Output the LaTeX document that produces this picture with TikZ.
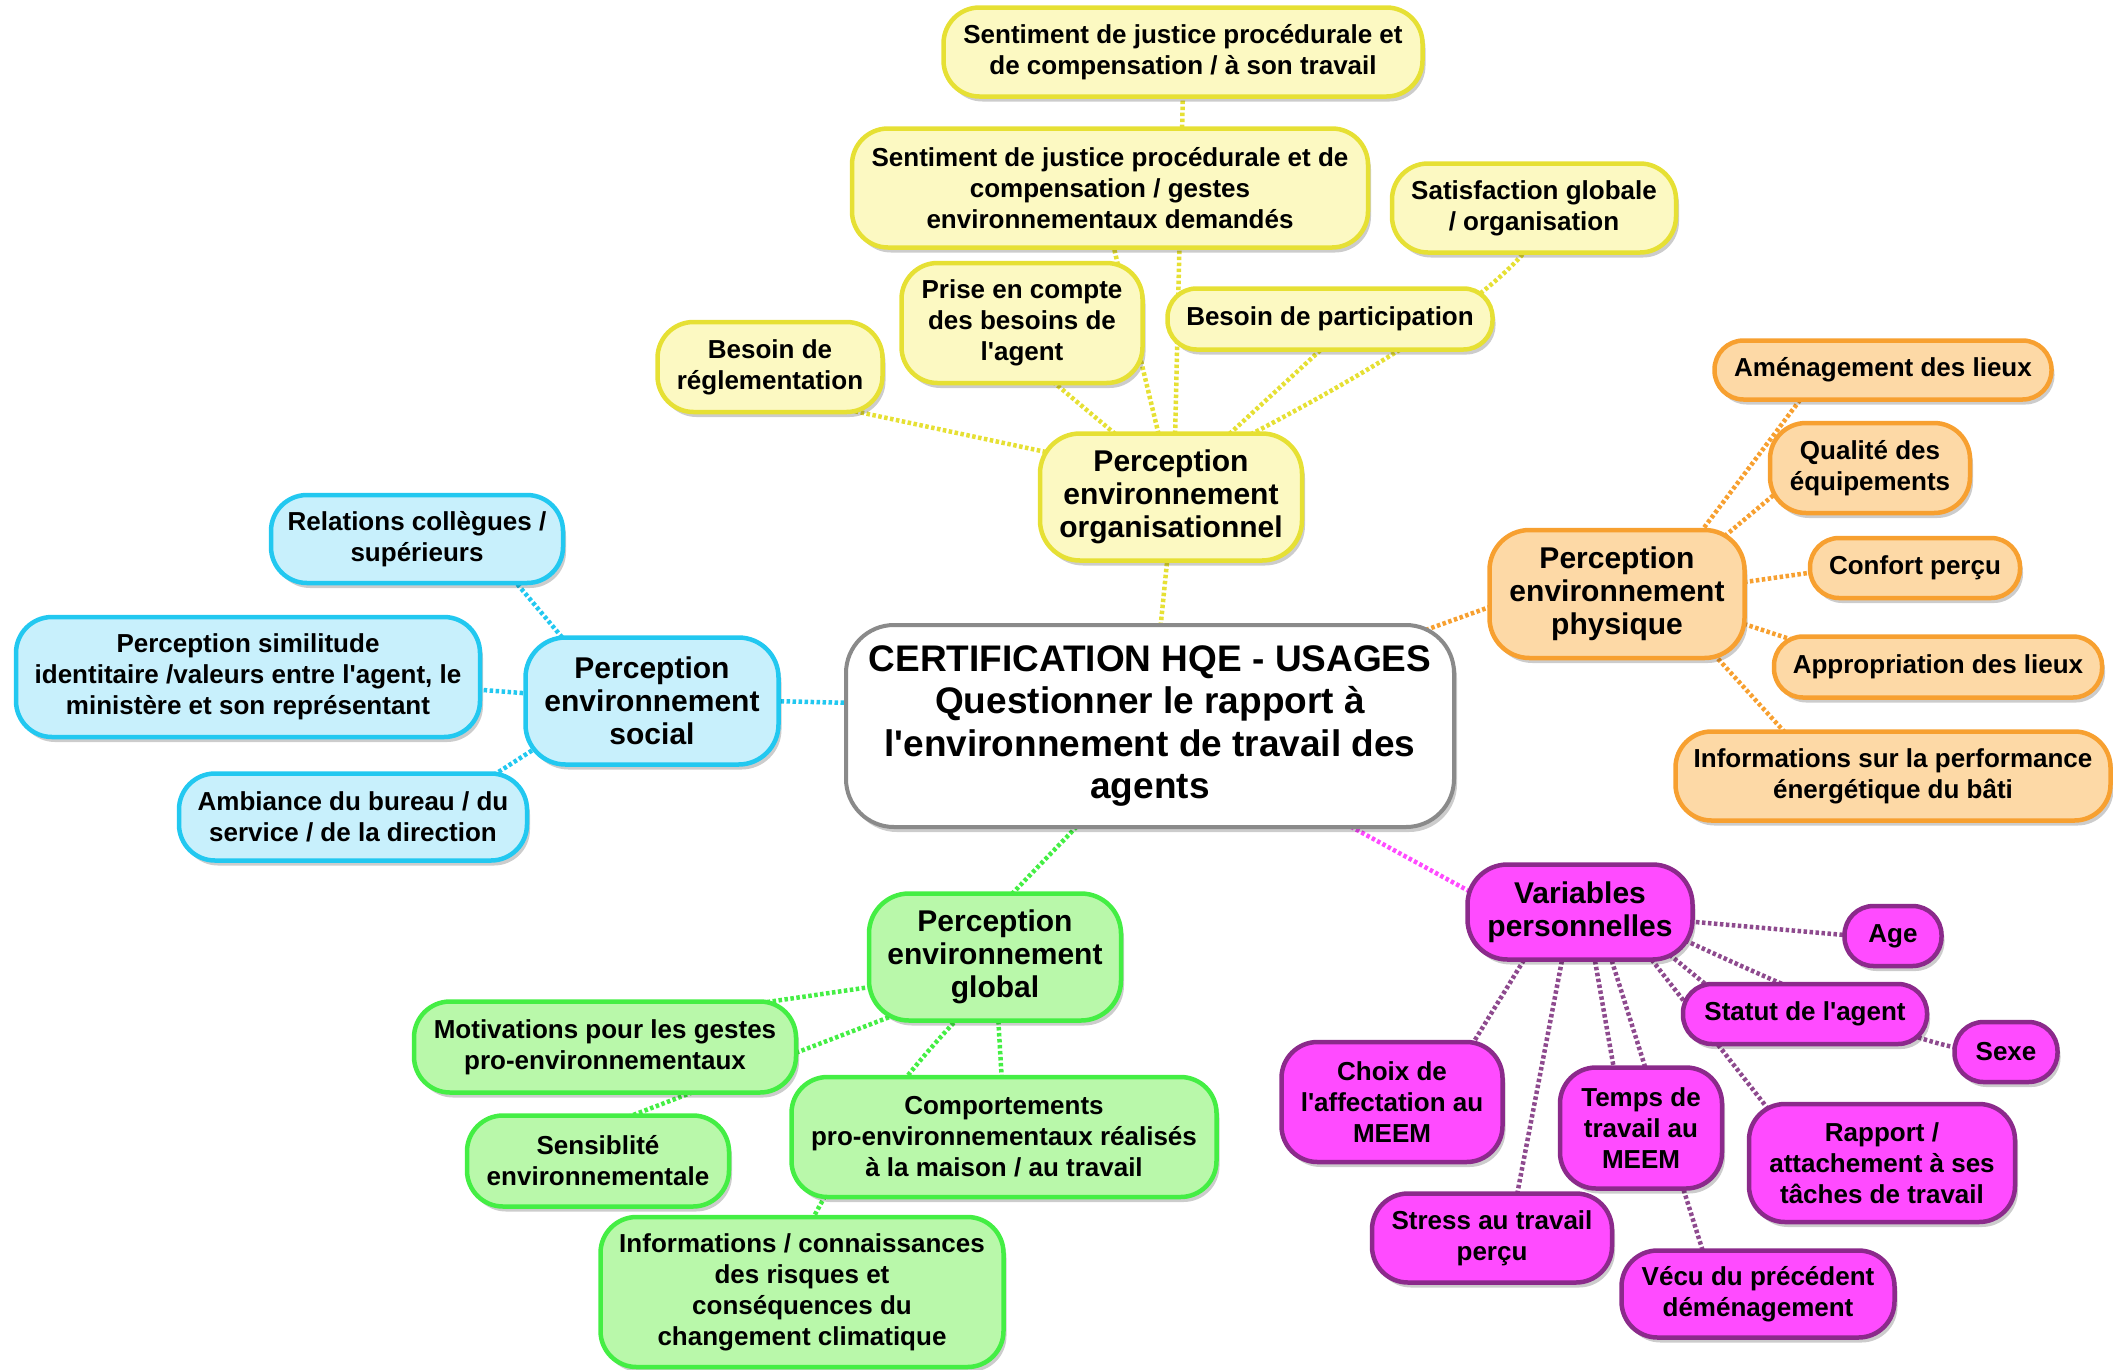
\documentclass[tikz,border=0pt]{standalone}
\usepackage{fontspec}
\setmainfont{Liberation Sans}
\usetikzlibrary{shadows,calc}
\pgfdeclarelayer{bg}
\pgfsetlayers{bg,main}
\newcommand{\myapos}{\textquotesingle}
\definecolor{yB}{HTML}{E6E034}
\definecolor{yF}{HTML}{FCF9C2}
\definecolor{bB}{HTML}{22C8F0}
\definecolor{bF}{HTML}{C8F0FC}
\definecolor{oB}{HTML}{F7A030}
\definecolor{oF}{HTML}{FDD9A6}
\definecolor{gB}{HTML}{44EE44}
\definecolor{gF}{HTML}{B9F8AA}
\definecolor{mB}{HTML}{8B2A8B}
\definecolor{mF}{HTML}{FF4BFF}
\definecolor{mL}{HTML}{8E4A8E}
\definecolor{cB}{HTML}{8A8A8A}
\tikzset{
  box/.style={draw, line width=4.5pt, align=center, inner sep=0pt,
    rounded corners=36pt,
    font=\fontsize{26}{31}\selectfont\bfseries,
    drop shadow={shadow xshift=3pt, shadow yshift=-5pt, opacity=0.2, fill=black}},
  pill/.style={rounded corners=29pt},
  hub/.style={rounded corners=40pt, font=\fontsize{30}{33}\selectfont\bfseries},
  ynode/.style={box, draw=yB, fill=yF},
  bnode/.style={box, draw=bB, fill=bF},
  onode/.style={box, draw=oB, fill=oF},
  gnode/.style={box, draw=gB, fill=gF},
  mnode/.style={box, draw=mB, fill=mF},
  conn/.style={line width=4.5pt, dash pattern=on 3.5pt off 2.5pt},
}
\begin{document}
\begin{tikzpicture}[x=1pt, y=-1pt]
\useasboundingbox (0,0) rectangle (2113,1369);

% ---- centre
\node[box, draw=cB, fill=white, line width=4pt, rounded corners=48pt,
  font=\fontsize{37}{42.5}\selectfont\bfseries,
  minimum width=608pt, minimum height=202pt] (c) at (1150,726)
  {CERTIFICATION HQE - USAGES\\Questionner le rapport à\\l\myapos environnement de travail des\\agents};

% ---- yellow
\node[ynode, minimum width=479pt, minimum height=89pt] (s1) at (1183,52)
  {Sentiment de justice procédurale et\\de compensation / à son travail};
\node[ynode, minimum width=516pt, minimum height=119pt] (s2) at (1110,188)
  {Sentiment de justice procédurale et de\\compensation / gestes\\environnementaux demandés};
\node[ynode, minimum width=284pt, minimum height=89pt] (sat) at (1534,208)
  {Satisfaction globale\\/ organisation};
\node[ynode, minimum width=241pt, minimum height=120pt] (prise) at (1022,323)
  {Prise en compte\\des besoins de\\l\myapos agent};
\node[ynode, pill, minimum width=325pt, minimum height=61pt] (bpart) at (1330,319)
  {Besoin de participation};
\node[ynode, minimum width=225pt, minimum height=90pt] (bregl) at (770,367)
  {Besoin de\\réglementation};
\node[ynode, hub, minimum width=262pt, minimum height=127pt] (hy) at (1171,497)
  {Perception\\environnement\\organisationnel};

% ---- blue
\node[bnode, hub, minimum width=253pt, minimum height=127pt] (hb) at (652,701)
  {Perception\\environnement\\social};
\node[bnode, minimum width=292pt, minimum height=88pt] (rel) at (417,539)
  {Relations collègues /\\supérieurs};
\node[bnode, minimum width=464pt, minimum height=120pt] (psim) at (248,677)
  {Perception similitude\\identitaire /valeurs entre l\myapos agent, le\\ministère et son représentant};
\node[bnode, minimum width=348pt, minimum height=87pt] (amb) at (353,817)
  {Ambiance du bureau / du\\service / de la direction};

% ---- orange
\node[onode, hub, minimum width=255pt, minimum height=128pt] (ho) at (1617,594)
  {Perception\\environnement\\physique};
\node[onode, pill, minimum width=337pt, minimum height=59pt] (amen) at (1883,370)
  {Aménagement des lieux};
\node[onode, minimum width=200pt, minimum height=90pt] (qual) at (1870,468)
  {Qualité des\\équipements};
\node[onode, pill, minimum width=210pt, minimum height=60pt] (conf) at (1915,568)
  {Confort perçu};
\node[onode, pill, minimum width=328pt, minimum height=61pt] (appr) at (1938,667)
  {Appropriation des lieux};
\node[onode, minimum width=435pt, minimum height=89pt] (iperf) at (1893,776)
  {Informations sur la performance\\énergétique du bâti};

% ---- green
\node[gnode, hub, minimum width=252pt, minimum height=127pt] (hg) at (995,957)
  {Perception\\environnement\\global};
\node[gnode, minimum width=382pt, minimum height=91pt] (motiv) at (605,1047)
  {Motivations pour les gestes\\pro-environnementaux};
\node[gnode, minimum width=262pt, minimum height=91pt] (sens) at (598,1161)
  {Sensiblité\\environnementale};
\node[gnode, minimum width=425pt, minimum height=120pt] (comp) at (1004,1137)
  {Comportements\\pro-environnementaux réalisés\\à la maison / au travail};
\node[gnode, minimum width=403pt, minimum height=150pt] (iclim) at (802,1292)
  {Informations / connaissances\\des risques et\\conséquences du\\changement climatique};

% ---- magenta
\node[mnode, hub, minimum width=225pt, minimum height=95pt] (hm) at (1580,912)
  {Variables\\personnelles};
\node[mnode, pill, minimum width=97pt, minimum height=60pt] (age) at (1893,936) {Age};
\node[mnode, pill, minimum width=244pt, minimum height=60pt] (statut) at (1805,1014)
  {Statut de l\myapos agent};
\node[mnode, pill, minimum width=103pt, minimum height=60pt] (sexe) at (2006,1052) {Sexe};
\node[mnode, minimum width=221pt, minimum height=120pt] (choix) at (1392,1102)
  {Choix de\\l\myapos affectation au\\MEEM};
\node[mnode, minimum width=162pt, minimum height=121pt] (temps) at (1641,1128)
  {Temps de\\travail au\\MEEM};
\node[mnode, minimum width=266pt, minimum height=118pt] (rapport) at (1882,1163)
  {Rapport /\\attachement à ses\\tâches de travail};
\node[mnode, minimum width=240pt, minimum height=89pt] (stress) at (1492,1238)
  {Stress au travail\\perçu};
\node[mnode, minimum width=273pt, minimum height=87pt] (vecu) at (1758,1294)
  {Vécu du précédent\\déménagement};

% ---- connectors
\begin{pgfonlayer}{bg}
\draw[conn, yB] ($(hy)+(4,-57)$) -- ($(s1)+(0,38)$);
\draw[conn, yB] ($(hy)+(-11,-57)$) -- ($(s2)+(2,52)$);
\draw[conn, yB] ($(hy)+(-51,-59)$) -- ($(prise)+(23,52)$);
\draw[conn, yB] ($(hy)+(54,-59)$) -- ($(bpart)+(-4,26)$);
\draw[conn, yB] ($(hy)+(69,-57)$) .. controls ($(hy)+(221,-136)$) and ($(sat)+(-46,89)$) .. ($(sat)+(-6,40)$);
\draw[conn, yB] ($(hy)+(-125,-45)$) -- ($(bregl)+(70,41)$);
\draw[conn, yB] ($(c)+(10,-94)$) -- ($(hy)+(-3,55)$);

\draw[conn, bB] ($(hb)+(-86,-59)$) -- ($(rel)+(91,34)$);
\draw[conn, bB] ($(hb)+(-117,-7)$) -- ($(psim)+(222,12)$);
\draw[conn, bB] ($(hb)+(-110,43)$) -- ($(amb)+(133,-37)$);
\draw[conn, bB] ($(c)+(-294,-23)$) -- ($(hb)+(118,0)$);

\draw[conn, oB] ($(ho)+(80,-57)$) -- ($(amen)+(-77,22)$);
\draw[conn, oB] ($(ho)+(103,-54)$) -- ($(qual)+(-88,20)$);
\draw[conn, oB] ($(ho)+(121,-11)$) -- ($(conf)+(-93,3)$);
\draw[conn, oB] ($(ho)+(121,28)$) -- ($(appr)+(-142,-26)$);
\draw[conn, oB] ($(ho)+(93,56)$) -- ($(iperf)+(-103,-38)$);
\draw[conn, oB] ($(c)+(270,-94)$) -- ($(ho)+(-119,10)$);

\draw[conn, gB] ($(hg)+(-118,29)$) -- ($(motiv)+(135,-41)$);
\draw[conn, gB] ($(hg)+(-95,56)$) -- ($(sens)+(22,-41)$);
\draw[conn, gB] ($(hg)+(3,58)$) -- ($(comp)+(-2,-54)$);
\draw[conn, gB] ($(hg)+(-33,57)$) .. controls ($(hg)+(-97,124)$) and ($(iclim)+(46,-141)$) .. ($(iclim)+(9,-70)$);
\draw[conn, gB] ($(c)+(-65,92)$) -- ($(hg)+(11,-57)$);

\draw[conn, mL] ($(hm)+(-53,43)$) -- ($(choix)+(78,-54)$);
\draw[conn, mL] ($(hm)+(-17,43)$) -- ($(stress)+(24,-38)$);
\draw[conn, mL] ($(hm)+(14,43)$) -- ($(temps)+(-26,-53)$);
\draw[conn, mL] ($(hm)+(30,43)$) -- ($(vecu)+(-53,-36)$);
\draw[conn, mL] ($(hm)+(85,39)$) -- ($(statut)+(-90,-22)$);
\draw[conn, mL] ($(hm)+(68,43)$) -- ($(rapport)+(-110,-49)$);
\draw[conn, mL] ($(hm)+(100,26)$) .. controls ($(hm)+(249,95)$) and ($(sexe)+(-82,-8)$) .. ($(sexe)+(-41,-3)$);
\draw[conn, mL] ($(hm)+(104,9)$) -- ($(age)+(-37,0)$);
\draw[conn, mF] ($(c)+(185,92)$) -- ($(hm)+(-102,-16)$);
\end{pgfonlayer}
\end{tikzpicture}
\end{document}
